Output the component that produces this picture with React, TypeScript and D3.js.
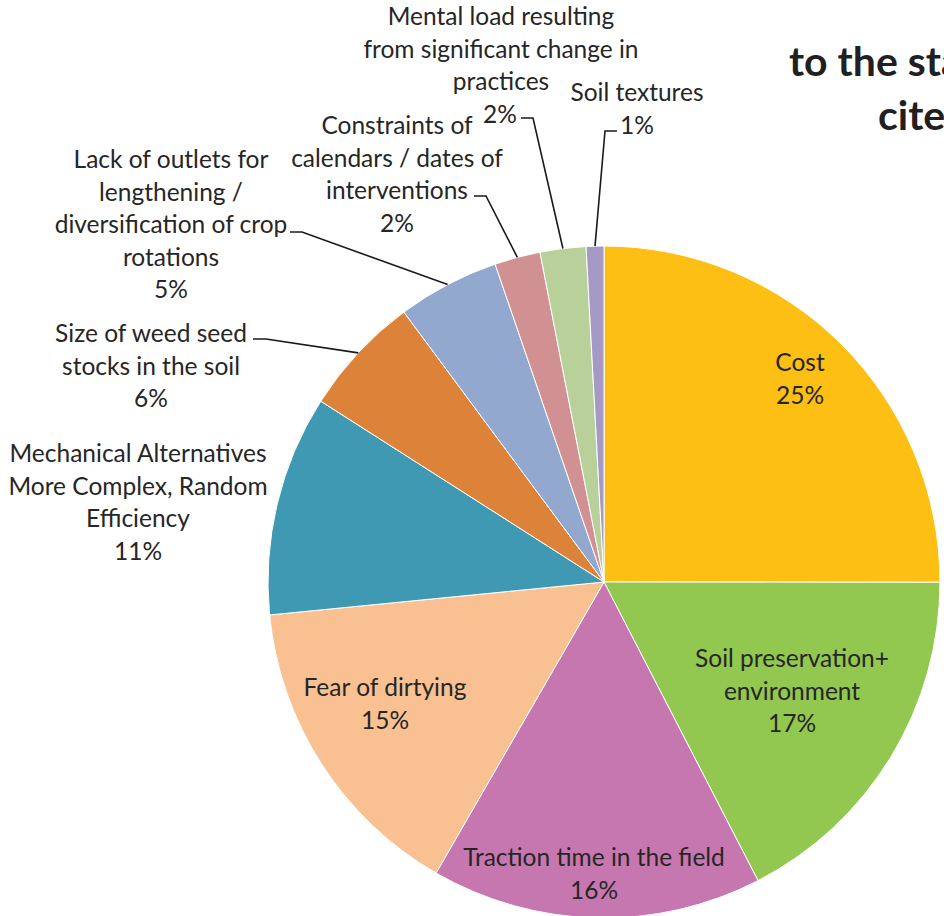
import React from "react";
import * as d3 from "d3";

const categories = [
  "Cost",
  "Soil preservation+ environment",
  "Traction time in the field",
  "Fear of dirtying",
  "Mechanical Alternatives More Complex, Random Efficiency",
  "Size of weed seed stocks in the soil",
  "Lack of outlets for lengthening / diversification of crop rotations",
  "Constraints of calendars / dates of interventions",
  "Mental load resulting from significant change in practices",
  "Soil textures",
];
const values = [25.0, 17.4, 15.9, 15.1, 10.6, 5.8, 4.9, 2.2, 2.2, 0.85];
const percentLabels = ["25%", "17%", "16%", "15%", "11%", "6%", "5%", "2%", "2%", "1%"];
const colors = [
  "#FDBF13", "#92C750", "#C677B0", "#F9C092", "#3F99B2",
  "#DC8339", "#93A8CE", "#D19192", "#B8D09A", "#A59AC6",
];
// text lines for each label (layout, not data)
const labelLines = [
  ["Cost"],
  ["Soil preservation+", "environment"],
  ["Traction time in the field"],
  ["Fear of dirtying"],
  ["Mechanical Alternatives", "More Complex, Random", "Efficiency"],
  ["Size of weed seed", "stocks in the soil"],
  ["Lack of outlets for", "lengthening /", "diversification of crop", "rotations"],
  ["Constraints of", "calendars / dates of", "interventions"],
  ["Mental load resulting", "from significant change in", "practices"],
  ["Soil textures"],
];
// label block: center x, first line center y
const labelPos = [
  [800, 361], [792, 657], [594, 856], [385, 686], [138, 452],
  [151, 332], [171, 158], [397, 124], [501, 15], [637, 91],
];
// leader line: [labelX, labelY, elbowX] or null
const leaders: ([number, number, number] | null)[] = [
  null, null, null, null, null,
  [253, 339, 266],
  [290, 232, 302],
  [474, 196, 486],
  [521, 118, 533],
  [617, 131, 605],
];

const W = 944, H = 916;
const cx = 604, cy = 582, R = 336;
const LH = 32.5;

export default function App() {
  const pie = d3.pie<number>().sort(null).value((d) => d).startAngle(0).endAngle(2 * Math.PI);
  const arcs = pie(values);
  const arcGen = d3.arc<d3.PieArcDatum<number>>().innerRadius(0).outerRadius(R);
  const font = "Lato, 'Open Sans', sans-serif";
  return (
    <svg width={W} height={H} style={{ position: "absolute", left: 0, top: 0, background: "#fff" }}>
      <rect width={W} height={H} fill="#fff" />
      <g fontFamily={font} fontWeight={700} fontSize={41} fill="#231F20">
        <text x={789} y={76}>to the stakeholders</text>
        <text x={878} y={130}>cited</text>
      </g>
      <g transform={`translate(${cx},${cy})`}>
        {arcs.map((a, i) => (
          <path key={categories[i]} d={arcGen(a) || ""} fill={colors[i]} stroke="#fff" strokeWidth={1} />
        ))}
      </g>
      <g stroke="#1a1a1a" strokeWidth={1.6} fill="none">
        {arcs.map((a, i) => {
          const l = leaders[i];
          if (!l) return null;
          const mid = (a.startAngle + a.endAngle) / 2;
          const px = cx + R * Math.sin(mid);
          const py = cy - R * Math.cos(mid);
          return <polyline key={i} points={`${l[0]},${l[1]} ${l[2]},${l[1]} ${px},${py}`} />;
        })}
      </g>
      <g fontFamily={font} fontSize={24.5} fill="#262626" textAnchor="middle" dominantBaseline="central">
        {labelLines.map((lines, i) => {
          const [x, y] = labelPos[i];
          const all = [...lines, percentLabels[i]];
          return (
            <text key={i}>
              {all.map((t, j) => (
                <tspan key={j} x={i === 8 && j === 3 ? 500 : x} y={y + j * LH}>{t}</tspan>
              ))}
            </text>
          );
        })}
      </g>
    </svg>
  );
}
